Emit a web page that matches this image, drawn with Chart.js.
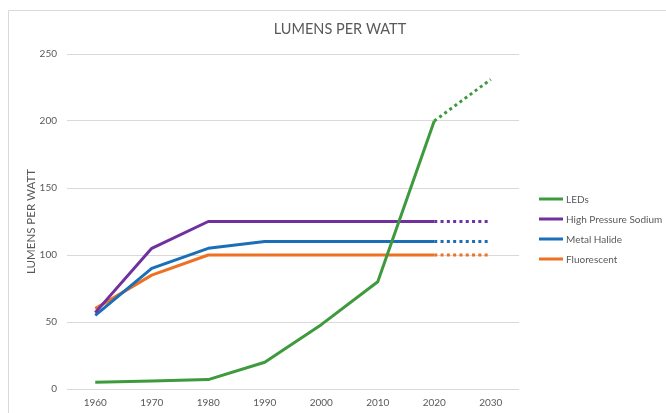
<!DOCTYPE html>
<html><head><meta charset="utf-8">
<script src="https://cdn.jsdelivr.net/npm/chart.js@4"></script>
<style>html,body{margin:0;padding:0;background:#fff}#wrap{width:666px;height:413px}</style>
</head><body><div id="wrap"><canvas id="c" width="666" height="413"></canvas></div>
<script>
const years = ['1960','1970','1980','1990','2000','2010','2020','2030'];
const leds = [5, 6, 7, 20, 48, 80, 200, 231];
const hps = [57, 105, 125, 125, 125, 125, 125, 125];
const metalHalide = [55, 90, 105, 110, 110, 110, 110, 110];
const fluorescent = [60, 85, 100, 100, 100, 100, 100, 100];
const yTicks = [0, 50, 100, 150, 200, 250];
const seriesNames = ['LEDs', 'High Pressure Sodium', 'Metal Halide', 'Fluorescent'];
const seriesColors = ['#3D9A3D', '#7030A0', '#1A6FB8', '#EE7022'];
const projectedFrom = 6;

const FONT = 'Lato, "Open Sans", sans-serif';
const GREY = '#595959';

function mk(i, data) {
  return {
    label: seriesNames[i], data: data,
    borderColor: seriesColors[i], backgroundColor: seriesColors[i],
    borderWidth: 3, pointRadius: 0, pointHoverRadius: 0, tension: 0,
    borderJoinStyle: 'round', fill: false,
    segment: { borderDash: ctx => ctx.p0DataIndex >= projectedFrom ? [3, 3.3] : undefined }
  };
}

const decor = {
  id: 'decor',
  beforeDraw(chart) {
    const c = chart.ctx;
    c.save();
    c.strokeStyle = '#d9d9d9'; c.lineWidth = 1;
    c.beginPath(); c.moveTo(8.5, 413); c.lineTo(8.5, 10.5); c.lineTo(666, 10.5); c.stroke();
    c.restore();
  },
  afterDraw(chart) {
    const c = chart.ctx;
    c.save();
    c.fillStyle = GREY;
    c.font = '14.5px ' + FONT;
    c.textAlign = 'center'; c.textBaseline = 'middle';
    c.fillText('LUMENS PER WATT', 340, 29.5);
    c.font = '10px ' + FONT;
    c.textAlign = 'left';
    chart.data.datasets.forEach((ds, i) => {
      const y = 199 + i * 20;
      c.strokeStyle = ds.borderColor; c.lineWidth = 3;
      c.beginPath(); c.moveTo(539, y); c.lineTo(563, y); c.stroke();
      c.fillStyle = GREY;
      c.fillText(ds.label, 566, y + 0.5);
    });
    c.restore();
  }
};

new Chart(document.getElementById('c'), {
  type: 'line',
  data: { labels: years, datasets: [mk(0, leds), mk(1, hps), mk(2, metalHalide), mk(3, fluorescent)] },
  options: {
    responsive: false, animation: false,
    layout: { padding: { top: 54, right: 147, left: 0, bottom: 0 } },
    plugins: { legend: { display: false }, title: { display: false }, tooltip: { enabled: false } },
    scales: {
      x: {
        type: 'category', offset: true,
        grid: { display: false, drawTicks: false },
        border: { display: false },
        ticks: { color: GREY, font: { family: FONT, size: 10 }, padding: 8, maxRotation: 0 },
        afterFit(s) { s.height = 24; }
      },
      y: {
        min: 0, max: 250,
        afterBuildTicks(s) { s.ticks = yTicks.map(v => ({ value: v })); },
        grid: { color: '#d9d9d9', lineWidth: 1, drawTicks: false },
        border: { display: false },
        ticks: { color: GREY, font: { family: FONT, size: 10 }, padding: 10 },
        title: { display: true, text: 'LUMENS PER WATT', color: GREY, font: { family: FONT, size: 11.5 }, padding: { top: 24, bottom: 0 } },
        afterFit(s) { s.width = 67; }
      }
    }
  },
  plugins: [decor]
});
</script></body></html>
